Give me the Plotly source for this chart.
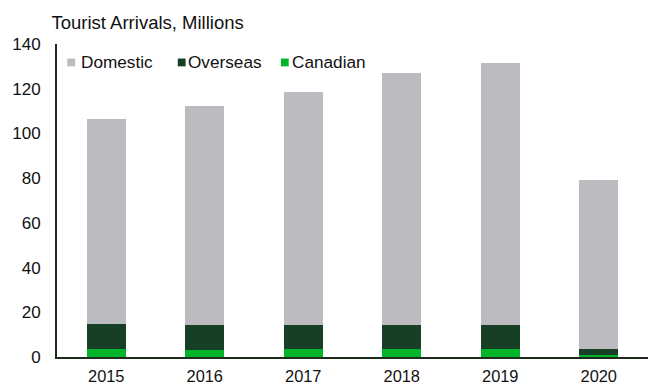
import plotly.graph_objects as go

# Tourist arrivals by origin, millions
years = ["2015", "2016", "2017", "2018", "2019", "2020"]
domestic = [91.7, 97.9, 104.3, 112.9, 117.2, 75.3]
overseas = [11.1, 11.0, 10.8, 10.8, 10.7, 2.7]
canadian = [3.8, 3.2, 3.4, 3.4, 3.5, 1.1]

y_ticks = [0, 20, 40, 60, 80, 100, 120, 140]
legend_order = ["Domestic", "Overseas", "Canadian"]

colors = {
    "Domestic": "#BCBBC0",
    "Overseas": "#173F26",
    "Canadian": "#00B52A",
}
font_family = "Liberation Sans, Arial, sans-serif"
text_color = "#111111"
axis_color = "#1E2B1C"

# Figure geometry in pixels
W, H = 652, 387
M_L, M_R, M_T, M_B = 57, 4, 43.5, 29.5
plot_w = W - M_L - M_R
plot_h = H - M_T - M_B


def px_to_paper(x, y):
    return (x - M_L) / plot_w, (H - M_B - y) / plot_h


fig = go.Figure()

# Stacked bars, bottom to top
for name, vals in [("Canadian", canadian), ("Overseas", overseas), ("Domestic", domestic)]:
    fig.add_trace(go.Bar(
        x=years, y=vals, name=name,
        marker=dict(color=colors[name], line=dict(width=0)),
        showlegend=False,
    ))

# Compact in-plot key: small square swatch followed by the series name
key_swatch_x = [71.2, 181.7, 284.8]
key_text_x = [80, 186.7, 290.7]
key_y = 62
for name, sx, tx in zip(legend_order, key_swatch_x, key_text_x):
    px, py = px_to_paper(sx, key_y)
    fig.add_shape(
        type="rect", xref="paper", yref="paper",
        xsizemode="pixel", ysizemode="pixel",
        xanchor=px, yanchor=py,
        x0=-3.9, x1=3.9, y0=-3.9, y1=3.9,
        fillcolor=colors[name], line=dict(width=0),
    )
    ax, ay = px_to_paper(tx - 1, key_y)
    fig.add_annotation(
        text=name, xref="paper", yref="paper",
        x=ax, y=ay, xanchor="left", yanchor="middle",
        showarrow=False,
        font=dict(family=font_family, size=17.2, color=text_color),
    )

fig.update_layout(
    barmode="stack",
    bargap=0.6,
    width=W, height=H,
    margin=dict(l=M_L, r=M_R, t=M_T, b=M_B),
    paper_bgcolor="white",
    plot_bgcolor="white",
    showlegend=False,
    font=dict(family=font_family, size=17, color=text_color),
    title=dict(
        text="Tourist Arrivals, Millions",
        xref="container", yref="container",
        x=51.5 / W, xanchor="left",
        y=1 - 22.3 / H, yanchor="middle",
        font=dict(family=font_family, size=18.5, color=text_color),
        pad=dict(l=0, r=0, t=0, b=0),
    ),
    xaxis=dict(
        showline=True, linecolor=axis_color, linewidth=2,
        showgrid=False, ticks="", ticklabelstandoff=3,
        tickfont=dict(size=16.4),
        automargin=False,
    ),
    yaxis=dict(
        range=[0, 140],
        tickvals=y_ticks,
        showline=True, linecolor=axis_color, linewidth=2,
        showgrid=False, zeroline=False, ticks="",
        ticklabelstandoff=11,
        tickfont=dict(size=17),
        automargin=False,
    ),
)

fig.write_html("out.html")
